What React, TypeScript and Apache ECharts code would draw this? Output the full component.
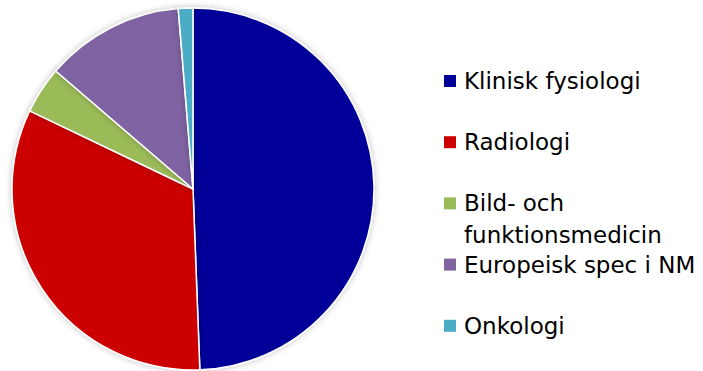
import React, { useEffect, useRef } from "react";
import * as echarts from "echarts";

// Share of each specialty (percent of the whole)
const categories = [
  "Klinisk fysiologi",
  "Radiologi",
  "Bild- och\nfunktionsmedicin",
  "Europeisk spec i NM",
  "Onkologi",
];
const values = [49.4, 32.7, 4.2, 12.4, 1.3];
const colors = ["#000099", "#CC0000", "#9BBB59", "#8064A2", "#4BACC6"];

const FONT = "'DejaVu Sans', Verdana, sans-serif";

export default function App() {
  const ref = useRef<HTMLDivElement>(null);

  useEffect(() => {
    if (!ref.current) return;
    const chart = echarts.init(ref.current, undefined, { renderer: "svg" });

    // Legend entries: a square marker aligned with the first text line
    const legendTop = 81;
    const slot = 61.2;
    const legendItems: any[] = [];
    categories.forEach((name, i) => {
      const cy = legendTop + i * slot;
      legendItems.push({
        type: "rect",
        shape: { x: 444, y: cy - 6, width: 12, height: 12 },
        style: { fill: colors[i] },
      });
      legendItems.push({
        type: "text",
        x: 464,
        y: cy - 16,
        style: {
          text: name,
          font: `23px ${FONT}`,
          fill: "#000000",
          lineHeight: 32,
          textVerticalAlign: "top",
          verticalAlign: "top",
        },
      });
    });

    chart.setOption({
      animation: false,
      backgroundColor: "#ffffff",
      series: [
        {
          type: "pie",
          center: [193, 189],
          radius: 181,
          startAngle: 90,
          clockwise: true,
          label: { show: false },
          labelLine: { show: false },
          emphasis: { disabled: true },
          itemStyle: {
            borderColor: "#ffffff",
            borderWidth: 1.5,
            shadowBlur: 6,
            shadowColor: "rgba(0,0,0,0.25)",
          },
          data: categories.map((name, i) => ({
            name,
            value: values[i],
            itemStyle: { color: colors[i] },
          })),
        },
      ],
      graphic: legendItems,
    });

    return () => chart.dispose();
  }, []);

  return <div ref={ref} style={{ width: 703, height: 371, position: "absolute", left: 0, top: 0 }} />;
}
